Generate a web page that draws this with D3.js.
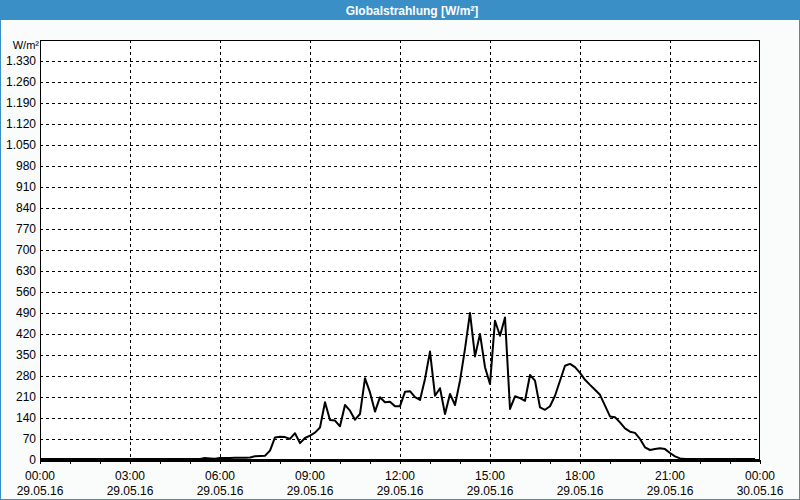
<!DOCTYPE html>
<html>
<head>
<meta charset="utf-8">
<script src="https://cdn.jsdelivr.net/npm/d3@7"></script>
<style>
  body { margin: 0; background: #fff; }
  svg { display: block; }
  text { font-family: 'Liberation Sans', Arial, sans-serif; font-size: 12px; fill: #000; }
</style>
</head>
<body>
<svg id="chart" width="800" height="500"></svg>
<script>
// chart title
const title = 'Globalstrahlung [W/m²]'
const unit = 'W/m²'

// 10 minute values from 00:00 to 23:50
const values = [
  0, 0, 0, 0, 0, 0, 0, 0, 0, 0, 0, 0,
  0, 0, 0, 0, 0, 0, 0, 0, 0, 0, 0, 0,
  0, 0, 0, 0, 0, 0, 0, 0, 0, 3, 2, 1,
  3, 3, 3, 4, 4, 4, 5, 9, 10, 11, 28, 72,
  74, 73, 67, 86, 53, 70, 78, 88, 105, 189, 130, 128,
  109, 180, 161, 131, 150, 269, 222, 158, 206, 189, 191, 176,
  176, 224, 226, 206, 197, 267, 358, 211, 236, 150, 217, 180,
  261, 367, 487, 342, 417, 306, 250, 461, 411, 472, 167, 209,
  203, 194, 280, 261, 172, 164, 176, 211, 261, 311, 317, 306,
  287, 264, 247, 231, 214, 178, 142, 139, 122, 102, 91, 87,
  67, 39, 30, 33, 36, 33, 20, 9, 2, 0, 0, 0,
  0, 0, 0, 0, 0, 0, 0, 0, 0, 0, 0, 0
]

const xTickTimes = ['00:00', '03:00', '06:00', '09:00', '12:00', '15:00', '18:00', '21:00', '00:00']
const xTickDates = ['29.05.16', '29.05.16', '29.05.16', '29.05.16', '29.05.16', '29.05.16', '29.05.16', '29.05.16', '30.05.16']
const yTicks = [0, 70, 140, 210, 280, 350, 420, 490, 560, 630, 700, 770, 840, 910, 980, 1050, 1120, 1190, 1260, 1330]
const yMax = 1400

const svg = d3.select('#chart')
const pLeft = 40, pRight = 760, pTop = 40, pBottom = 460

const start = new Date(2016, 4, 29, 0, 0)
const end = new Date(2016, 4, 30, 0, 0)

const x = d3.scaleTime().domain([start, end]).range([pLeft, pRight])
const y = d3.scaleLinear().domain([0, yMax]).range([pBottom, pTop])

const de = d3.formatLocale({ decimal: ',', thousands: '.', grouping: [3], currency: ['', ' €'] })
const fmt = de.format(',d')

const data = values.map((v, i) => {
  return { dt: d3.timeMinute.offset(start, i * 10), val: v }
})

// background + frame
svg.append('rect')
  .attr('width', 800).attr('height', 500)
  .attr('fill', '#fafcfb')
svg.append('rect')
  .attr('x', 0.5).attr('y', 0.5)
  .attr('width', 799).attr('height', 499)
  .attr('fill', 'none')
  .attr('stroke', '#3b8fc7')
svg.append('rect')
  .attr('width', 800).attr('height', 20)
  .attr('fill', '#3b8fc7')
svg.append('text')
  .attr('x', 412).attr('y', 14.5)
  .attr('text-anchor', 'middle')
  .style('font-weight', 'bold')
  .style('fill', '#fff')
  .text(title)

svg.append('rect')
  .attr('x', pLeft).attr('y', pTop)
  .attr('width', pRight - pLeft).attr('height', pBottom - pTop)
  .attr('fill', '#fff')

// grid
const hourTicks = d3.timeHour.every(3).range(start, d3.timeMinute.offset(end, 1))
svg.append('g')
  .selectAll('line')
  .data(hourTicks.slice(1, -1))
  .enter()
  .append('line')
  .attr('x1', (d) => Math.round(x(d)) + 0.5)
  .attr('x2', (d) => Math.round(x(d)) + 0.5)
  .attr('y1', pTop)
  .attr('y2', pBottom)
  .attr('stroke', '#000')
  .attr('stroke-dasharray', '3,3')
  .style('shape-rendering', 'crispEdges')

svg.append('g')
  .selectAll('line')
  .data(yTicks.slice(1))
  .enter()
  .append('line')
  .attr('x1', pLeft)
  .attr('x2', pRight)
  .attr('y1', (d) => Math.round(y(d)) + 0.5)
  .attr('y2', (d) => Math.round(y(d)) + 0.5)
  .attr('stroke', '#000')
  .attr('stroke-dasharray', '3,3')
  .style('shape-rendering', 'crispEdges')

// y labels
svg.append('g')
  .selectAll('text')
  .data(yTicks)
  .enter()
  .append('text')
  .attr('x', 36)
  .attr('y', (d) => y(d) + 4)
  .attr('text-anchor', 'end')
  .text((d) => fmt(d))

svg.append('text')
  .attr('x', 39).attr('y', 49)
  .attr('text-anchor', 'end')
  .style('font-size', '11px')
  .text(unit)

// hour ticks below axis
svg.append('g')
  .selectAll('line')
  .data(d3.timeHour.every(1).range(start, d3.timeMinute.offset(end, 1)))
  .enter()
  .append('line')
  .attr('x1', (d) => Math.round(x(d)) + 0.5)
  .attr('x2', (d) => Math.round(x(d)) + 0.5)
  .attr('y1', pBottom)
  .attr('y2', pBottom + 4)
  .attr('stroke', '#000')
  .style('shape-rendering', 'crispEdges')

// x labels
const xl = svg.append('g')
  .selectAll('g')
  .data(hourTicks)
  .enter()
  .append('g')
xl.append('text')
  .attr('x', (d) => x(d))
  .attr('y', 480)
  .attr('text-anchor', 'middle')
  .text((d, i) => xTickTimes[i])
xl.append('text')
  .attr('x', (d) => x(d))
  .attr('y', 495)
  .attr('text-anchor', 'middle')
  .text((d, i) => xTickDates[i])

// plot frame
svg.append('rect')
  .attr('x', pLeft + 0.5).attr('y', pTop + 0.5)
  .attr('width', pRight - pLeft - 1).attr('height', pBottom - pTop)
  .attr('fill', 'none')
  .attr('stroke', '#000')
  .style('shape-rendering', 'crispEdges')
svg.append('line')
  .attr('x1', pLeft).attr('x2', pRight)
  .attr('y1', pBottom).attr('y2', pBottom)
  .attr('stroke', '#000')
  .attr('stroke-width', 3)
  .style('shape-rendering', 'crispEdges')

// value line
svg.append('path')
  .datum(data)
  .attr('d', d3.line()
    .x((d) => x(d.dt))
    .y((d) => y(d.val) - 1))
  .attr('stroke', '#000')
  .style('stroke-width', 2)
  .style('fill', 'none')
  .style('stroke-linejoin', 'round')
</script>
</body>
</html>
